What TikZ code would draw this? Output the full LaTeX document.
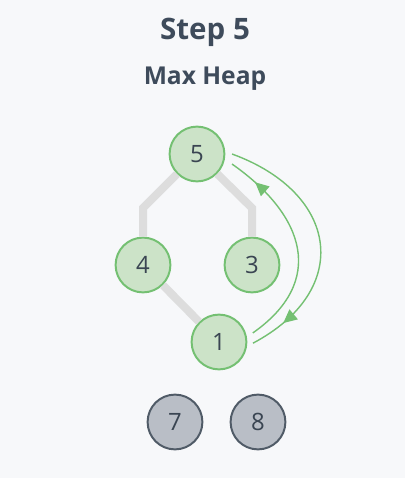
\documentclass[tikz,border=0pt]{standalone}
\usepackage{fontspec}
\setmainfont{Open Sans}
\usetikzlibrary{arrows.meta,decorations.markings,calc}

\definecolor{bgcol}{HTML}{F7F8FA}
\definecolor{textcol}{HTML}{3E4B5B}
\definecolor{numcol}{HTML}{3A4552}
\definecolor{heapfill}{HTML}{CCE3C8}
\definecolor{heapline}{HTML}{74C072}
\definecolor{donefill}{HTML}{B9BEC6}
\definecolor{doneline}{HTML}{505B67}
\definecolor{edgecol}{HTML}{DDDDDD}

\begin{document}
\begin{tikzpicture}[
  heap/.style={circle, draw=heapline, fill=heapfill, line width=1.4pt,
    minimum size=1.37cm, inner sep=0pt, text=numcol,
    font=\fontsize{17}{20}\selectfont},
  done/.style={heap, draw=doneline, fill=donefill},
  title/.style={anchor=base, text=textcol, font=\bfseries\fontsize{21}{25}\selectfont},
  subtitle/.style={anchor=base, text=textcol, font=\bfseries\fontsize{17.5}{21}\selectfont},
  edge/.style={draw=edgecol, line width=0.2cm},
  swap/.style={draw=heapline, line width=1pt, postaction={decorate},
    decoration={markings, mark=at position 0.86 with
      {\arrow{Triangle[length=0.34cm,width=0.32cm]}}}}
]

\fill[bgcol] (0,0) rectangle (10.125,11.95);

\node [title] (step) at (5.125,10.95) {Step 5};
\node [subtitle] (kind) at (5.125,9.825) {Max Heap};

%heap nodes
\node [heap] (n5) at (4.925,8.1) {5};
\node [heap] (n4) at (3.575,5.325) {4};
\node [heap] (n3) at (6.3,5.325) {3};
\node [heap] (n1) at (5.475,3.4) {1};

%sorted nodes
\node [done] (n7) at (4.375,1.4) {7};
\node [done] (n8) at (6.45,1.4) {8};

%tree edges
\coordinate (c54) at (3.575,6.75);
\coordinate (c53) at (6.3,6.75);
\draw [edge] (n5) -- (c54) -- (n4);
\draw [edge] (n5) -- (c53) -- (n3);
\draw [edge] (n4) -- (n1);

%swap arrows
\coordinate (o5) at ($(n5)+(0:0.875)$);
\coordinate (o1) at ($(n1)+(-2:0.85)$);
\coordinate (i1) at ($(n1)+(15:0.875)$);
\coordinate (i5) at ($(n5)+(-16:0.91)$);
\draw [swap] (o5) to [out=-20, in=28, looseness=1.53] (o1);
\draw [swap] (i1) to [out=35, in=-35, looseness=1.35] (i5);

\end{tikzpicture}
\end{document}
